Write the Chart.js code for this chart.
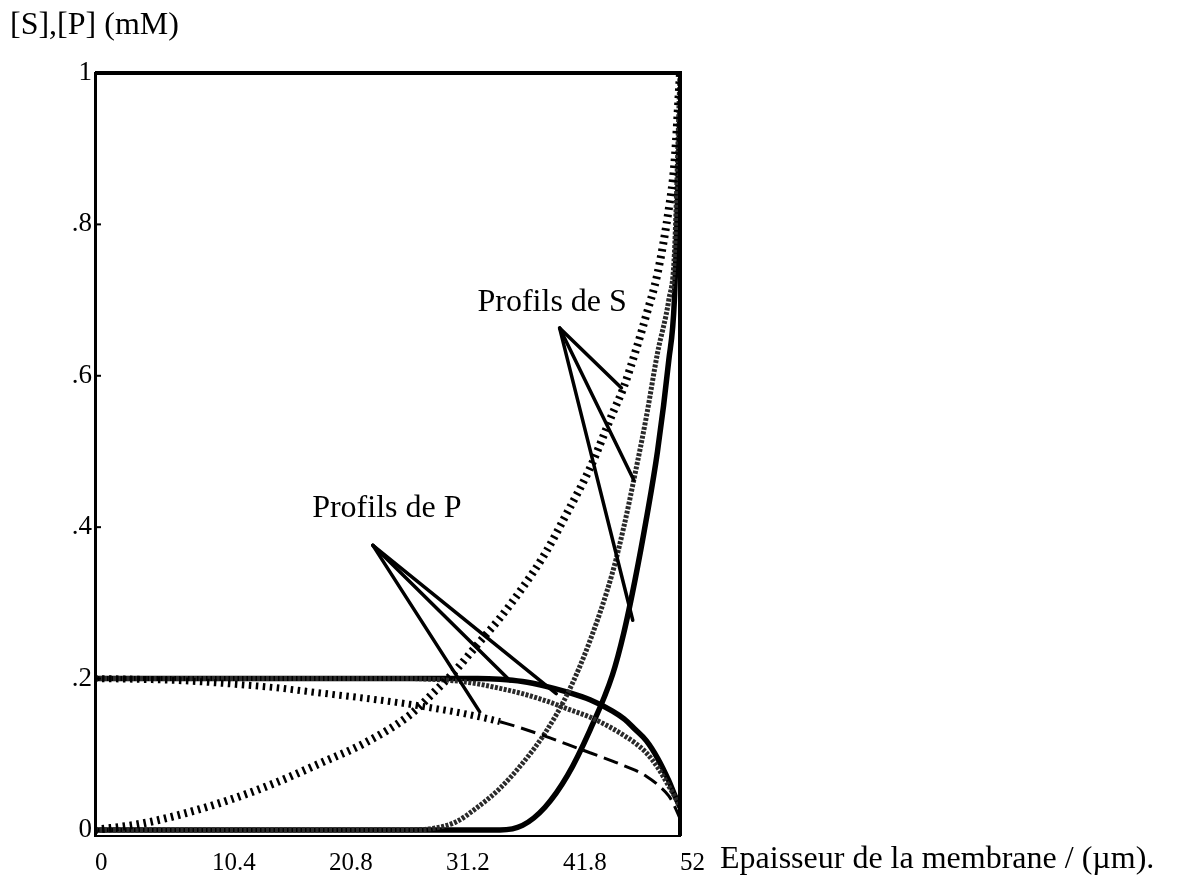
<!DOCTYPE html>
<html>
<head>
<meta charset="utf-8">
<script src="https://cdn.jsdelivr.net/npm/chart.js@4.4.1/dist/chart.umd.min.js"></script>
<style>
  body { margin: 0; background: #fff; }
  canvas { display: block; }
</style>
</head>
<body>
<canvas id="chart" width="1182" height="881"></canvas>
<script>
// abscisses (épaisseur, µm)
const xs = [0, 4, 8, 12, 16, 20, 24, 28, 30, 32, 34, 36, 38, 40, 42, 44, 46, 47, 48, 49, 50, 51, 51.5, 52];

// profils de S
const sDiffuse = [0, 0.008, 0.022, 0.04, 0.062, 0.088, 0.115, 0.152, 0.18, 0.21, 0.245, 0.28, 0.32, 0.365, 0.42, 0.478, 0.55, 0.585, 0.63, 0.68, 0.735, 0.82, 0.88, 1.0];
const sMid     = [0, 0, 0, 0, 0, 0, 0, 0, 0.002, 0.01, 0.03, 0.055, 0.088, 0.128, 0.18, 0.25, 0.34, 0.4, 0.47, 0.545, 0.63, 0.7, 0.76, 1.0];
const sSteep   = [0, 0, 0, 0, 0, 0, 0, 0, 0, 0, 0, 0, 0.006, 0.03, 0.072, 0.132, 0.205, 0.26, 0.33, 0.41, 0.5, 0.62, 0.7, 0.95];

// profils de P
const pFlat    = [0.2, 0.2, 0.2, 0.2, 0.2, 0.2, 0.2, 0.2, 0.2, 0.2, 0.2, 0.199, 0.196, 0.19, 0.182, 0.172, 0.157, 0.147, 0.133, 0.118, 0.095, 0.065, 0.047, 0.03];
const pMid     = [0.2, 0.2, 0.2, 0.2, 0.2, 0.2, 0.2, 0.2, 0.199, 0.197, 0.193, 0.187, 0.18, 0.171, 0.16, 0.149, 0.134, 0.125, 0.115, 0.102, 0.083, 0.058, 0.045, 0.03];
const pDiffuse = [0.2, 0.199, 0.197, 0.193, 0.188, 0.181, 0.174, 0.166, 0.161, 0.156, 0.15, 0.143, 0.134, 0.124, 0.113, 0.102, 0.091, 0.085, 0.079, 0.071, 0.06, 0.045, 0.032, 0.015];

// graduations
const xTickValues = [0, 10.4, 20.8, 31.2, 41.6, 52];
const xTickLabels = ['0', '10.4', '20.8', '31.2', '41.8', '52'];
const yTickValues = [0, 0.2, 0.4, 0.6, 0.8, 1];
const yTickLabels = ['0', '.2', '.4', '.6', '.8', '1'];

// textes
const yTitle = '[S],[P] (mM)';
const xTitle = 'Epaisseur de la membrane / (µm).';

// annotations (coordonnées en unités des axes)
const sNoteText = 'Profils de S';
const sNoteAt = [34, 0.697];
const sPointerFrom = [41.3, 0.663];
const sPointerTo = [[46.8, 0.584], [47.9, 0.462], [47.8, 0.277]];

const pNoteText = 'Profils de P';
const pNoteAt = [19.3, 0.425];
const pPointerFrom = [24.7, 0.376];
const pPointerTo = [[34.2, 0.156], [36.9, 0.197], [41, 0.18]];

const serif = '"Liberation Serif", "Times New Roman", serif';

function pts(arr) {
    return xs.map((x, i) => ({ x: x, y: arr[i] }));
}

// cadre, titres et flèches
const notesPlugin = {
    id: 'notes',
    afterDatasetsDraw(chart) {
        const { ctx, chartArea } = chart;
        const x = chart.scales.x, y = chart.scales.y;
        ctx.save();

        // haut et droite du cadre
        ctx.strokeStyle = '#000';
        ctx.lineWidth = 4;
        ctx.beginPath();
        ctx.moveTo(chartArea.left, y.getPixelForValue(1));
        ctx.lineTo(x.getPixelForValue(52), y.getPixelForValue(1));
        ctx.lineTo(x.getPixelForValue(52), chartArea.bottom);
        ctx.stroke();

        // petites graduations intérieures
        ctx.lineWidth = 2;
        yTickValues.forEach(v => {
            if (v === 0 || v === 1) return;
            const py = y.getPixelForValue(v);
            ctx.beginPath();
            ctx.moveTo(chartArea.left, py);
            ctx.lineTo(chartArea.left + 6, py);
            ctx.stroke();
        });

        // flèches
        ctx.lineWidth = 3.5;
        ctx.lineCap = 'round';
        [[sPointerFrom, sPointerTo], [pPointerFrom, pPointerTo]].forEach(([from, tos]) => {
            tos.forEach(to => {
                ctx.beginPath();
                ctx.moveTo(x.getPixelForValue(from[0]), y.getPixelForValue(from[1]));
                ctx.lineTo(x.getPixelForValue(to[0]), y.getPixelForValue(to[1]));
                ctx.stroke();
            });
        });

        // textes
        ctx.fillStyle = '#000';
        ctx.textBaseline = 'middle';
        ctx.textAlign = 'left';
        ctx.font = '32px ' + serif;
        ctx.fillText(sNoteText, x.getPixelForValue(sNoteAt[0]), y.getPixelForValue(sNoteAt[1]));
        ctx.fillText(pNoteText, x.getPixelForValue(pNoteAt[0]), y.getPixelForValue(pNoteAt[1]));
        ctx.fillText(yTitle, 10, 26);
        ctx.fillText(xTitle, 720, 860);
        ctx.restore();
    }
};

const ctx = document.getElementById('chart').getContext('2d');

new Chart(ctx, {
    type: 'scatter',
    data: {
        datasets: [
            {
                data: pts(pDiffuse),
                borderWidth: 7,
                borderDash: [2.5, 4.5],
                segment: {
                    borderDash: c => c.p0.parsed.x >= 36 ? [15, 7] : undefined,
                    borderWidth: c => c.p0.parsed.x >= 36 ? 3 : undefined
                }
            },
            { data: pts(sDiffuse), borderWidth: 8, borderDash: [2.5, 4.5] },
            { data: pts(sMid), borderWidth: 5, borderDash: [3, 1.5], borderColor: '#2a2a2a' },
            { data: pts(pMid), borderWidth: 5, borderDash: [3, 1.5], borderColor: '#2a2a2a' },
            { data: pts(sSteep), borderWidth: 5.5 },
            { data: pts(pFlat), borderWidth: 5.5 }
        ].map(d => Object.assign({
            showLine: true,
            pointRadius: 0,
            fill: false,
            borderColor: '#000',
            cubicInterpolationMode: 'monotone'
        }, d))
    },
    options: {
        responsive: false,
        animation: false,
        layout: { padding: { left: 0, right: 502, top: 73, bottom: 0 } },
        plugins: {
            legend: { display: false },
            tooltip: { enabled: false }
        },
        scales: {
            x: {
                type: 'linear',
                min: 0,
                max: 52,
                afterBuildTicks: s => { s.ticks = xTickValues.map(v => ({ value: v })); },
                afterFit: s => { s.height = 45; },
                ticks: {
                    align: 'start',
                    autoSkip: false,
                    maxRotation: 0,
                    padding: 12,
                    color: '#000',
                    font: { family: serif, size: 25 },
                    callback: (v, i) => xTickLabels[i]
                },
                grid: { display: false, drawTicks: false },
                border: { display: true, width: 2, color: '#000' }
            },
            y: {
                min: -0.008,
                max: 1,
                afterBuildTicks: s => { s.ticks = yTickValues.map(v => ({ value: v })); },
                afterFit: s => { s.width = 95; },
                ticks: {
                    padding: 3,
                    color: '#000',
                    font: { family: serif, size: 27 },
                    callback: (v, i) => yTickLabels[i]
                },
                grid: { display: false, drawTicks: false },
                border: { display: true, width: 3, color: '#000' }
            }
        }
    },
    plugins: [notesPlugin]
});
</script>
</body>
</html>
